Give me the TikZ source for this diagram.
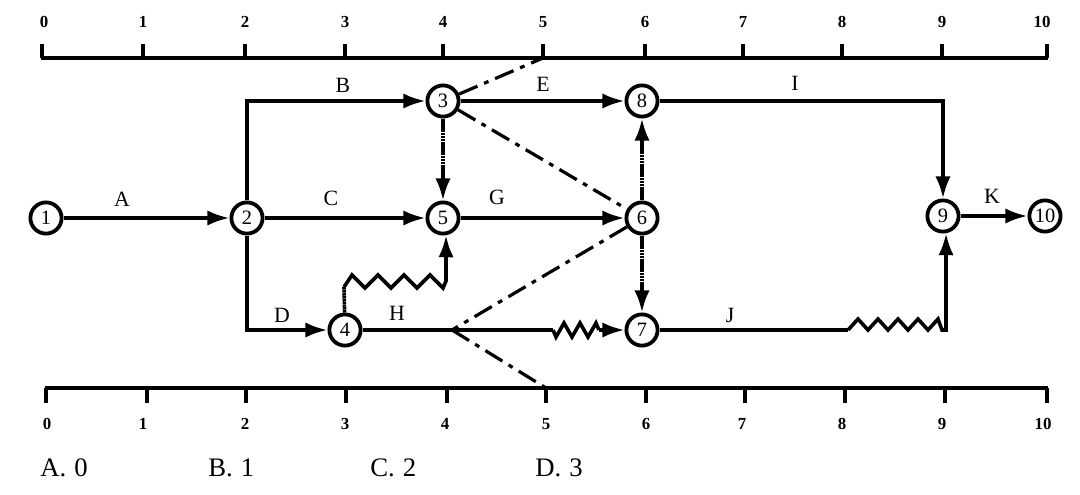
\documentclass[tikz,border=0pt]{standalone}
\usepackage{fontspec}
\setmainfont{Liberation Serif}
\usepackage{xcolor}
\usetikzlibrary{arrows.meta}

\tikzset{
	evt/.style={circle, draw, line width=0.095cm, minimum size=0.78cm, inner sep=0pt, fill=white, font=\fontsize{14.5}{14.5}\selectfont},
	job/.style={line width=0.09cm, line join=miter},
	arr/.style={job, -{Latex[length=0.55cm,width=0.38cm]}},
	dum/.style={arr, dash pattern=on 0.06cm off 0.012cm},
	drop/.style={line width=0.08cm, dash pattern=on 0.5cm off 0.18cm on 0.12cm off 0.18cm},
	scl/.style={line width=0.085cm},
	lbl/.style={inner sep=0pt, font=\fontsize{15.5}{15.5}\selectfont},
	num/.style={inner sep=0pt, font=\fontsize{12}{12}\selectfont\bfseries},
	opt/.style={inner sep=0pt, anchor=base west, font=\fontsize{19}{19}\selectfont}
}

\begin{document}
\begin{tikzpicture}[x=0.025cm, y=-0.025cm]
		\useasboundingbox (0,0) rectangle (1080,494);
		% Top scale
		\foreach \xp/\xl/\i in {42/44/0,143/143/1,245/245/2,345/345/3,443/443/4,543/543/5,645/645/6,743/743/7,842/842/8,942/942/9,1047/1042/10}{
			\coordinate (t\i) at (\xp,58);
			\coordinate (tt\i) at (\xp,44);
			\draw[scl] (t\i) -- (tt\i);
			\node[num] (tn\i) at (\xl,22) {\i};
		}
		\draw[scl] (41,58) -- (1048,58);
		% Bottom scale
		\foreach \xp/\xl/\i in {46/47/0,147/143/1,246/245/2,346/345/3,447/445/4,546/546/5,646/646/6,745/742/7,845/842/8,945/942/9,1047/1043/10}{
			\coordinate (b\i) at (\xp,388);
			\coordinate (bb\i) at (\xp,403);
			\draw[scl] (b\i) -- (bb\i);
			\node[num] (bn\i) at (\xl,424) {\i};
		}
		\draw[scl] (45,388) -- (1048,388);
		% Events
		\node[evt] (n1) at (46,218) {1};
		\node[evt] (n2) at (247,218) {2};
		\node[evt] (n3) at (443,101) {3};
		\node[evt] (n4) at (345,330) {4};
		\node[evt] (n5) at (443,218) {5};
		\node[evt] (n6) at (642,218) {6};
		\node[evt] (n7) at (642,330) {7};
		\node[evt] (n8) at (642,101) {8};
		\node[evt] (n9) at (943,216) {9};
		\node[evt] (n10) at (1045,216) {10};
		% Jobs
		\draw[arr] (n1) -- (n2);
		\draw[arr] (n2) |- (n3);
		\draw[arr] (n2) -- (n5);
		\draw[arr] (n2) |- (n4);
		\draw[arr] (n3) -- (n8);
		\draw[arr] (n5) -- (n6);
		\draw[arr] (n9) -- (n10);
		\draw[arr] (n8.east) -| (n9);
		% Dummy jobs
		\draw[dum] (n3) -- (n5);
		\draw[dum] (n6) -- (n8);
		\draw[dum] (n6) -- (n7);
		\coordinate (w1) at (344,287);
		\draw[job, dash pattern=on 0.06cm off 0.012cm] (n4) -- (w1);
		% Wavy parts
		\draw[arr] (w1) -- ++(8,-12) foreach \k in {1,2,3}{ -- ++(13,13) -- ++(13,-13)} -- ++(13,13) -- (446,281) -- (n5.-80);
		\coordinate (h1) at (553,330);
		\coordinate (fork) at (452,330);
		\draw[job] (n4) -- (h1);
		\draw[job] (h1) -- ++(3,7) foreach \k in {1,2}{ -- ++(8,-14) -- ++(8,14)} -- ++(8,-14) coordinate (h2) -- ++(3,7) coordinate (h3);
		\draw[arr] (h3) -- (n7);
		\coordinate (j1) at (848,330);
		\draw[job] (n7) -- (j1);
		\draw[arr] (j1) foreach \k in {1,2,3,4}{ -- ++(10,-11) -- ++(10,11)} -- ++(10,-11) -- ++(4,11) -- (946,330) -- (n9.-80);
		% Drop lines
		\draw[drop] (n3) -- (t5);
		\draw[drop] (n3) -- (n6);
		\draw[drop] (n6) -- (fork);
		\draw[drop] (fork) -- (b5);
		% Job labels
		\node[lbl] (la) at (122,199) {A};
		\node[lbl] (lb) at (343,85) {B};
		\node[lbl] (lc) at (331,198) {C};
		\node[lbl] (ld) at (282,315) {D};
		\node[lbl] (le) at (543,84) {E};
		\node[lbl] (lg) at (497,197) {G};
		\node[lbl] (lh) at (397,313) {H};
		\node[lbl] (li) at (795,83) {I};
		\node[lbl] (lj) at (730,315) {J};
		\node[lbl] (lk) at (992,196) {K};
		% Answer options
		\node[opt] (oa) at (40,476) {A.\hspace{0.3em}0};
		\node[opt] (ob) at (208,476) {B.\hspace{0.3em}1};
		\node[opt] (oc) at (370,476) {C.\hspace{0.3em}2};
		\node[opt] (od) at (535,476) {D.\hspace{0.3em}3};
\end{tikzpicture}
\end{document}
